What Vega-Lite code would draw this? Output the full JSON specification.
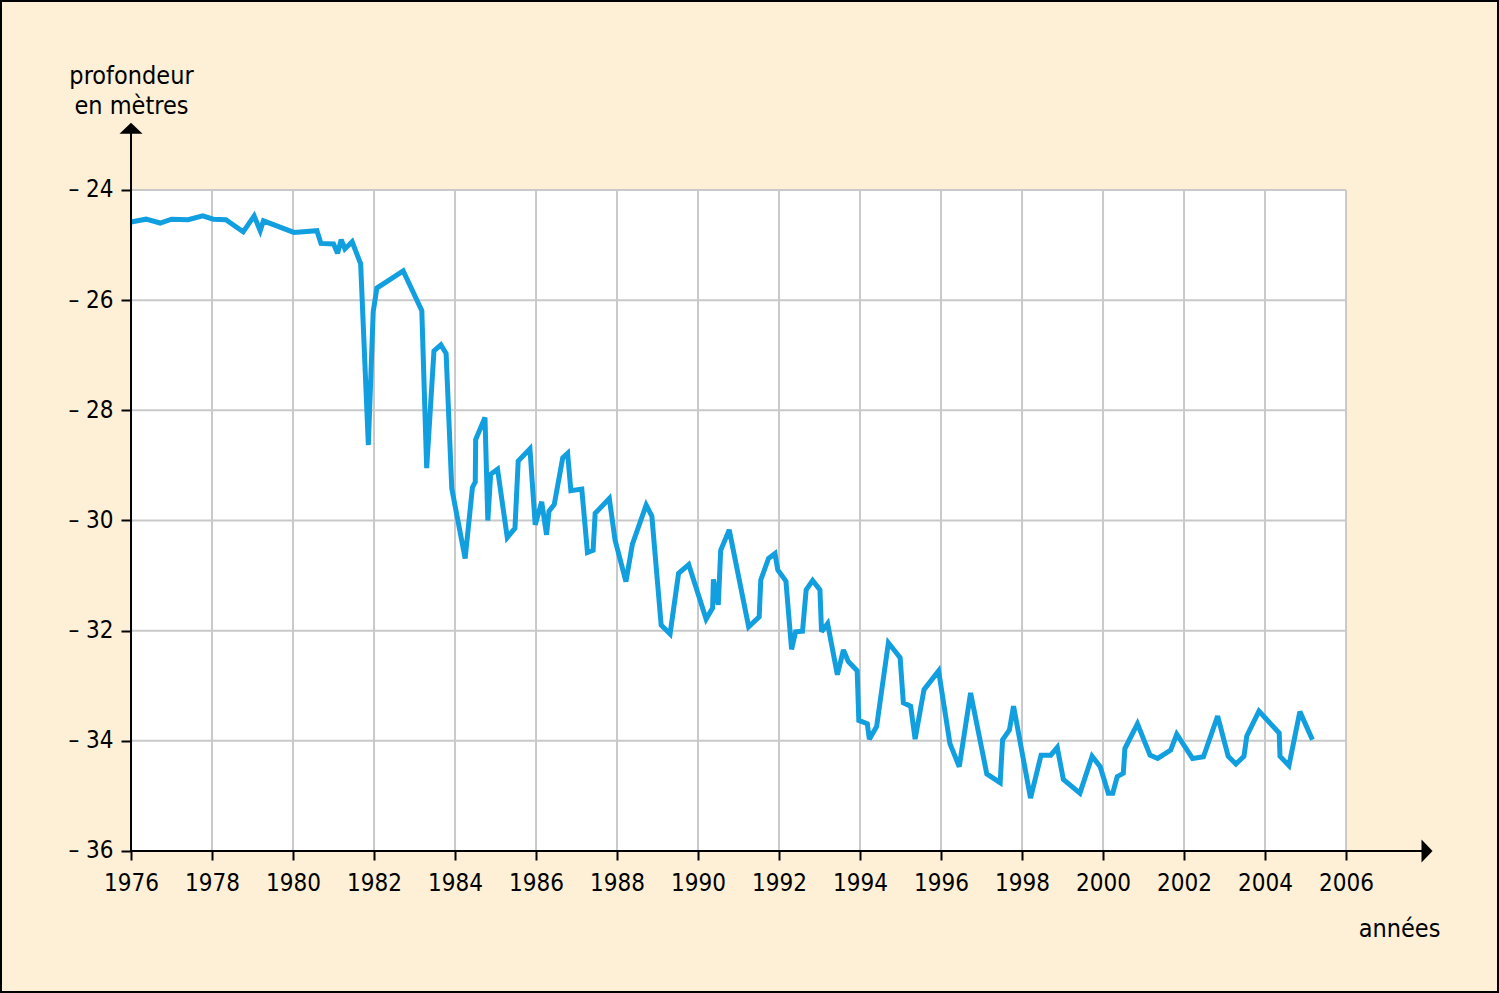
{
  "$schema": "https://vega.github.io/schema/vega-lite/v6.json",
  "width": 1499,
  "height": 993,
  "padding": 0,
  "autosize": {"type": "none"},
  "background": "#fdf0d6",
  "config": {
    "view": {"stroke": "#000000", "strokeWidth": 4, "fill": null},
    "font": "Liberation Sans Narrow, DejaVu Sans Condensed, Roboto Condensed, sans-serif"
  },
  "datasets": {
    "niveau": [
      {"year": 1976.0, "depth": -24.58}, {"year": 1976.37, "depth": -24.53}, {"year": 1976.72, "depth": -24.6},
      {"year": 1977.0, "depth": -24.53}, {"year": 1977.41, "depth": -24.54}, {"year": 1977.77, "depth": -24.47},
      {"year": 1978.03, "depth": -24.53}, {"year": 1978.34, "depth": -24.54}, {"year": 1978.77, "depth": -24.76},
      {"year": 1979.04, "depth": -24.47}, {"year": 1979.19, "depth": -24.74}, {"year": 1979.27, "depth": -24.56},
      {"year": 1980.02, "depth": -24.77}, {"year": 1980.59, "depth": -24.74}, {"year": 1980.69, "depth": -24.97},
      {"year": 1981.0, "depth": -24.98}, {"year": 1981.1, "depth": -25.15}, {"year": 1981.19, "depth": -24.9},
      {"year": 1981.28, "depth": -25.07}, {"year": 1981.46, "depth": -24.94}, {"year": 1981.67, "depth": -25.34},
      {"year": 1981.86, "depth": -28.63}, {"year": 1981.98, "depth": -26.21}, {"year": 1982.07, "depth": -25.78},
      {"year": 1982.72, "depth": -25.47}, {"year": 1983.18, "depth": -26.19}, {"year": 1983.3, "depth": -29.05},
      {"year": 1983.48, "depth": -26.92}, {"year": 1983.65, "depth": -26.81}, {"year": 1983.78, "depth": -26.97},
      {"year": 1983.92, "depth": -29.42}, {"year": 1984.25, "depth": -30.69}, {"year": 1984.43, "depth": -29.4},
      {"year": 1984.5, "depth": -29.3}, {"year": 1984.51, "depth": -28.53}, {"year": 1984.74, "depth": -28.13},
      {"year": 1984.81, "depth": -30.0}, {"year": 1984.88, "depth": -29.16}, {"year": 1985.05, "depth": -29.07},
      {"year": 1985.29, "depth": -30.31}, {"year": 1985.48, "depth": -30.14}, {"year": 1985.56, "depth": -28.92},
      {"year": 1985.85, "depth": -28.7}, {"year": 1985.98, "depth": -30.08}, {"year": 1986.14, "depth": -29.66},
      {"year": 1986.26, "depth": -30.26}, {"year": 1986.32, "depth": -29.83}, {"year": 1986.45, "depth": -29.71},
      {"year": 1986.66, "depth": -28.86}, {"year": 1986.78, "depth": -28.78}, {"year": 1986.86, "depth": -29.46},
      {"year": 1987.13, "depth": -29.43}, {"year": 1987.27, "depth": -30.58}, {"year": 1987.41, "depth": -30.54},
      {"year": 1987.46, "depth": -29.87}, {"year": 1987.81, "depth": -29.6}, {"year": 1987.95, "depth": -30.35},
      {"year": 1988.22, "depth": -31.11}, {"year": 1988.38, "depth": -30.43}, {"year": 1988.72, "depth": -29.72},
      {"year": 1988.86, "depth": -29.92}, {"year": 1989.09, "depth": -31.9}, {"year": 1989.31, "depth": -32.06},
      {"year": 1989.52, "depth": -30.96}, {"year": 1989.77, "depth": -30.8}, {"year": 1990.2, "depth": -31.79},
      {"year": 1990.36, "depth": -31.59}, {"year": 1990.38, "depth": -31.07}, {"year": 1990.5, "depth": -31.53},
      {"year": 1990.56, "depth": -30.54}, {"year": 1990.77, "depth": -30.17}, {"year": 1991.25, "depth": -31.93},
      {"year": 1991.51, "depth": -31.75}, {"year": 1991.55, "depth": -31.08}, {"year": 1991.74, "depth": -30.69},
      {"year": 1991.9, "depth": -30.6}, {"year": 1991.97, "depth": -30.9}, {"year": 1992.17, "depth": -31.1},
      {"year": 1992.31, "depth": -32.34}, {"year": 1992.41, "depth": -32.02}, {"year": 1992.58, "depth": -32.01},
      {"year": 1992.67, "depth": -31.26}, {"year": 1992.83, "depth": -31.09}, {"year": 1993.01, "depth": -31.26},
      {"year": 1993.05, "depth": -32.02}, {"year": 1993.2, "depth": -31.87}, {"year": 1993.44, "depth": -32.8},
      {"year": 1993.59, "depth": -32.35}, {"year": 1993.71, "depth": -32.56}, {"year": 1993.93, "depth": -32.73},
      {"year": 1993.97, "depth": -33.63}, {"year": 1994.18, "depth": -33.69}, {"year": 1994.23, "depth": -33.97},
      {"year": 1994.41, "depth": -33.74}, {"year": 1994.7, "depth": -32.22}, {"year": 1994.99, "depth": -32.49},
      {"year": 1995.07, "depth": -33.31}, {"year": 1995.25, "depth": -33.37}, {"year": 1995.36, "depth": -33.97},
      {"year": 1995.58, "depth": -33.07}, {"year": 1995.94, "depth": -32.73}, {"year": 1996.22, "depth": -34.05},
      {"year": 1996.45, "depth": -34.47}, {"year": 1996.73, "depth": -33.13}, {"year": 1997.13, "depth": -34.6},
      {"year": 1997.46, "depth": -34.76}, {"year": 1997.52, "depth": -33.98}, {"year": 1997.69, "depth": -33.8},
      {"year": 1997.79, "depth": -33.37}, {"year": 1998.21, "depth": -35.04}, {"year": 1998.47, "depth": -34.26},
      {"year": 1998.71, "depth": -34.26}, {"year": 1998.87, "depth": -34.12}, {"year": 1999.02, "depth": -34.7},
      {"year": 1999.43, "depth": -34.95}, {"year": 1999.73, "depth": -34.28}, {"year": 1999.93, "depth": -34.47},
      {"year": 2000.13, "depth": -34.95}, {"year": 2000.24, "depth": -34.95}, {"year": 2000.35, "depth": -34.65},
      {"year": 2000.5, "depth": -34.59}, {"year": 2000.54, "depth": -34.14}, {"year": 2000.85, "depth": -33.69},
      {"year": 2001.16, "depth": -34.26}, {"year": 2001.35, "depth": -34.32}, {"year": 2001.67, "depth": -34.17},
      {"year": 2001.82, "depth": -33.88}, {"year": 2002.21, "depth": -34.32}, {"year": 2002.48, "depth": -34.29},
      {"year": 2002.83, "depth": -33.55}, {"year": 2003.09, "depth": -34.28}, {"year": 2003.28, "depth": -34.42},
      {"year": 2003.48, "depth": -34.28}, {"year": 2003.55, "depth": -33.91}, {"year": 2003.85, "depth": -33.46},
      {"year": 2004.35, "depth": -33.86}, {"year": 2004.37, "depth": -34.28}, {"year": 2004.59, "depth": -34.45},
      {"year": 2004.86, "depth": -33.47}, {"year": 2005.17, "depth": -33.98}
    ],
    "gridYears": [
      {"year": 1978}, {"year": 1980}, {"year": 1982}, {"year": 1984}, {"year": 1986}, {"year": 1988},
      {"year": 1990}, {"year": 1992}, {"year": 1994}, {"year": 1996}, {"year": 1998}, {"year": 2000},
      {"year": 2002}, {"year": 2004}, {"year": 2006}
    ],
    "gridDepths": [
      {"depth": -34}, {"depth": -32}, {"depth": -30}, {"depth": -28}, {"depth": -26}, {"depth": -24}
    ],
    "one": [{"k": 1}]
  },
  "layer": [
    {
      "data": {"name": "one"},
      "mark": {"type": "rect", "fill": "#ffffff", "stroke": null},
      "encoding": {
        "x": {
          "datum": 1976, "type": "quantitative",
          "scale": {"domain": [1972.765, 2009.777], "nice": false, "zero": false},
          "axis": {
            "values": [1976, 1978, 1980, 1982, 1984, 1986, 1988, 1990, 1992, 1994, 1996, 1998, 2000, 2002, 2004, 2006],
            "format": "d", "offset": -142, "domain": false, "grid": false,
            "tickSize": 9, "tickWidth": 2, "tickColor": "#000000",
            "labelFontSize": 24, "labelColor": "#000000", "labelPadding": 11,
            "labelFlush": false, "labelOverlap": false, "labelBound": false,
            "title": "années", "titleFontSize": 25, "titleFontWeight": "normal", "titleColor": "#000000",
            "titleAlign": "center", "titleBaseline": "alphabetic", "titleX": 1399, "titleY": 85, "titleAnchor": null
          }
        },
        "x2": {"datum": 2006},
        "y": {
          "datum": -24, "type": "quantitative",
          "scale": {"domain": [-38.578, -20.551], "nice": false, "zero": false},
          "axis": {
            "values": [-36, -34, -32, -30, -28, -26, -24],
            "labelExpr": "'– ' + abs(datum.value)",
            "offset": -131, "domain": false, "grid": false,
            "tickSize": 10, "tickWidth": 2, "tickColor": "#000000",
            "labelFontSize": 24, "labelColor": "#000000", "labelPadding": 8,
            "labelOverlap": false, "labelBound": false, "labelFlush": false,
            "title": ["profondeur", "en mètres"], "titleAngle": 0, "titleFontSize": 25,
            "titleFontWeight": "normal", "titleColor": "#000000", "titleAlign": "center",
            "titleBaseline": "alphabetic", "titleX": 0, "titleY": 83, "titleLineHeight": 30, "titleAnchor": null
          }
        },
        "y2": {"datum": -36}
      }
    },
    {
      "data": {"name": "gridYears"},
      "mark": {"type": "rule", "color": "#c9c9c9", "strokeWidth": 2},
      "encoding": {
        "x": {"field": "year", "type": "quantitative"},
        "y": {"datum": -36, "type": "quantitative"},
        "y2": {"datum": -24}
      }
    },
    {
      "data": {"name": "gridDepths"},
      "mark": {"type": "rule", "color": "#c9c9c9", "strokeWidth": 2},
      "encoding": {
        "y": {"field": "depth", "type": "quantitative"},
        "x": {"datum": 1976, "type": "quantitative"},
        "x2": {"datum": 2006}
      }
    },
    {
      "data": {"name": "niveau"},
      "mark": {"type": "line", "color": "#129fe0", "strokeWidth": 5, "strokeJoin": "miter", "strokeMiterLimit": 3},
      "encoding": {
        "x": {"field": "year", "type": "quantitative"},
        "y": {"field": "depth", "type": "quantitative"}
      }
    },
    {
      "data": {"name": "one"},
      "mark": {"type": "rule", "color": "#000000", "strokeWidth": 2},
      "encoding": {
        "x": {"datum": 1976, "type": "quantitative"},
        "y": {"datum": -36, "type": "quantitative"},
        "y2": {"datum": -22.95}
      }
    },
    {
      "data": {"name": "one"},
      "mark": {"type": "rule", "color": "#000000", "strokeWidth": 2},
      "encoding": {
        "x": {"datum": 1976, "type": "quantitative"},
        "x2": {"datum": 2007.9},
        "y": {"datum": -36, "type": "quantitative"}
      }
    },
    {
      "data": {"name": "one"},
      "mark": {"type": "point", "shape": "M-1,0.48L0,-0.48L1,0.48Z", "size": 529, "filled": true, "fill": "#000000", "strokeWidth": 0, "opacity": 1},
      "encoding": {
        "x": {"datum": 1976, "type": "quantitative"},
        "y": {"datum": -22.88, "type": "quantitative"}
      }
    },
    {
      "data": {"name": "one"},
      "mark": {"type": "point", "shape": "M-0.48,-1L0.48,0L-0.48,1Z", "size": 529, "filled": true, "fill": "#000000", "strokeWidth": 0, "opacity": 1},
      "encoding": {
        "x": {"datum": 2008.0, "type": "quantitative"},
        "y": {"datum": -36, "type": "quantitative"}
      }
    }
  ]
}
